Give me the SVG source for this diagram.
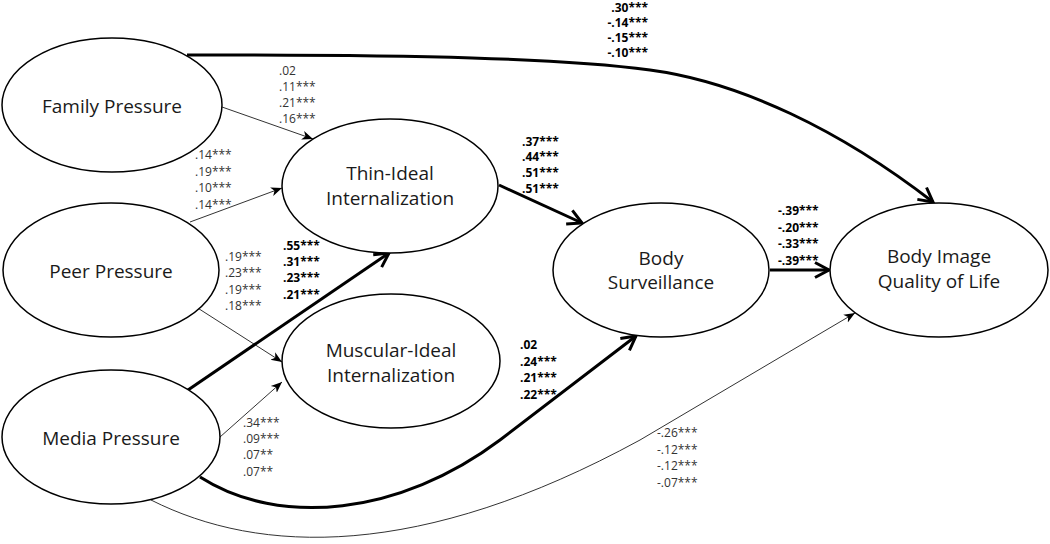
<svg xmlns="http://www.w3.org/2000/svg" width="1050" height="544" viewBox="0 0 1050 544">
<style>
.node ellipse{fill:#fff;stroke:#000;stroke-width:1.5}
.node text{font-family:"Open Sans","Noto Sans",sans-serif;font-size:19px;fill:#1a1a1a;text-anchor:middle}
.thin{fill:none;stroke:#333;stroke-width:1}
.thick{fill:none;stroke:#000;stroke-width:3}
.lab{font-family:"Open Sans","Noto Sans",sans-serif;font-size:12px;fill:#333}
.lab.b{font-weight:bold;fill:#000}
</style>
<defs>
<marker id="ah-thin" markerUnits="userSpaceOnUse" markerWidth="14" markerHeight="12" refX="11" refY="5" orient="auto">
<path d="M0,0.5 L11,5 L0,9.5 L3,5 z" fill="#000"/>
</marker>
<marker id="ah-thick" markerUnits="userSpaceOnUse" markerWidth="20" markerHeight="20" refX="15" refY="9" orient="auto">
<path d="M1,1.5 L15,9 L1,16.5" fill="none" stroke="#000" stroke-width="3"/>
</marker>
</defs>
<rect width="1050" height="544" fill="#fff"/>
<g id="connectors">
<path class="thick" d="M187,55 C 420,55 560,58 650,70 C 740,82 840,130 933,202" marker-end="url(#ah-thick)"/>
<path class="thin" d="M222,107 L313,139" marker-end="url(#ah-thin)"/>
<path class="thin" d="M190,222 L282,188" marker-end="url(#ah-thin)"/>
<path class="thin" d="M193,305 L282,362" marker-end="url(#ah-thin)"/>
<path class="thick" d="M188,390 L389,253" marker-end="url(#ah-thick)"/>
<path class="thin" d="M220,437 L282,382" marker-end="url(#ah-thin)"/>
<path class="thick" d="M200,477 C 280,528 400,515 500,440 L636,336" marker-end="url(#ah-thick)"/>
<path class="thin" d="M151,500 C 260,555 420,560 640,440 L855,313" marker-end="url(#ah-thin)"/>
<path class="thick" d="M499,185 L582,223" marker-end="url(#ah-thick)"/>
<path class="thick" d="M770,270 L829,270" marker-end="url(#ah-thick)"/>
</g>
<g id="family" class="node">
<ellipse cx="112" cy="105" rx="110" ry="67"/>
<text x="112" y="113">Family Pressure</text>
</g>
<g id="peer" class="node">
<ellipse cx="111" cy="270" rx="108" ry="67"/>
<text x="111" y="278">Peer Pressure</text>
</g>
<g id="media" class="node">
<ellipse cx="111" cy="437" rx="109" ry="67"/>
<text x="111" y="445">Media Pressure</text>
</g>
<g id="thin-ideal" class="node">
<ellipse cx="390" cy="186" rx="108" ry="67"/>
<text x="390" y="180">Thin-Ideal</text>
<text x="390" y="205">Internalization</text>
</g>
<g id="muscular-ideal" class="node">
<ellipse cx="391" cy="361" rx="109" ry="67"/>
<text x="391" y="357">Muscular-Ideal</text>
<text x="391" y="382">Internalization</text>
</g>
<g id="body-surveillance" class="node">
<ellipse cx="661" cy="270" rx="108" ry="67"/>
<text x="661" y="265">Body</text>
<text x="661" y="289">Surveillance</text>
</g>
<g id="body-image-qol" class="node">
<ellipse cx="939" cy="270" rx="109" ry="67"/>
<text x="939" y="263">Body Image</text>
<text x="939" y="288">Quality of Life</text>
</g>
<g id="labels">
<text class="lab b" text-anchor="end"><tspan x="648" y="12">.30***</tspan><tspan x="648" y="27">-.14***</tspan><tspan x="648" y="42">-.15***</tspan><tspan x="648" y="57">-.10***</tspan></text>
<text class="lab"><tspan x="279" y="75">.02</tspan><tspan x="279" y="91">.11***</tspan><tspan x="279" y="107">.21***</tspan><tspan x="279" y="123">.16***</tspan></text>
<text class="lab"><tspan x="195" y="159">.14***</tspan><tspan x="195" y="176">.19***</tspan><tspan x="195" y="192">.10***</tspan><tspan x="195" y="209">.14***</tspan></text>
<text class="lab"><tspan x="225" y="261">.19***</tspan><tspan x="225" y="277">.23***</tspan><tspan x="225" y="294">.19***</tspan><tspan x="225" y="310">.18***</tspan></text>
<text class="lab b"><tspan x="283" y="250">.55***</tspan><tspan x="283" y="266">.31***</tspan><tspan x="283" y="282">.23***</tspan><tspan x="283" y="299">.21***</tspan></text>
<text class="lab b"><tspan x="522" y="146">.37***</tspan><tspan x="522" y="161">.44***</tspan><tspan x="522" y="177">.51***</tspan><tspan x="522" y="193">.51***</tspan></text>
<text class="lab b"><tspan x="778" y="215">-.39***</tspan><tspan x="778" y="232">-.20***</tspan><tspan x="778" y="248">-.33***</tspan><tspan x="778" y="265">-.39***</tspan></text>
<text class="lab b"><tspan x="520" y="349">.02</tspan><tspan x="520" y="366">.24***</tspan><tspan x="520" y="382">.21***</tspan><tspan x="520" y="399">.22***</tspan></text>
<text class="lab"><tspan x="243" y="427">.34***</tspan><tspan x="243" y="443">.09***</tspan><tspan x="243" y="459">.07**</tspan><tspan x="243" y="476">.07**</tspan></text>
<text class="lab"><tspan x="657" y="437">-.26***</tspan><tspan x="657" y="454">-.12***</tspan><tspan x="657" y="470">-.12***</tspan><tspan x="657" y="487">-.07***</tspan></text>
</g>
</svg>
